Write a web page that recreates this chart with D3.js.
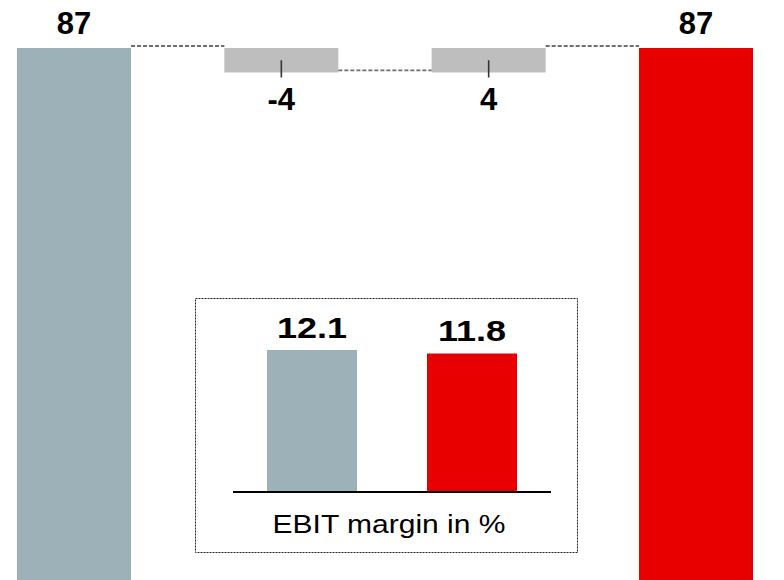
<!DOCTYPE html>
<html>
<head>
<meta charset="utf-8">
<script src="https://cdn.jsdelivr.net/npm/d3@7/dist/d3.min.js"></script>
<style>
  html, body { margin: 0; padding: 0; background: #fff; }
  svg { display: block; font-family: "Liberation Sans", Arial, Helvetica, sans-serif; }
</style>
</head>
<body>
<svg id="chart" width="784" height="580"></svg>
<script>
// EBIT bridge: start total, two changes, end total
const steps = ["start", "change1", "change2", "end"];
const stepKinds = ["total", "delta", "delta", "total"];
const stepValues = [87, -4, 4, 87];

// EBIT margin inset
const marginCats = ["prior", "current"];
const marginValues = [12.1, 11.8];
const marginTitle = "EBIT margin in %";

const colors = { prior: "#9cb1b8", current: "#e80000", delta: "#bebebe" };

// inset labels use a widened face
const placeText = (cx, cy, sx) => `translate(${cx},${cy}) scale(${sx},1)`;

const svg = d3.select("#chart");

// ---- waterfall ----
const x = d3.scaleBand().domain(steps).range([17, 753]).paddingInner(0.45).paddingOuter(0);
const y = d3.scaleLinear().domain([0, 87]).range([580, 48]);

// running levels for each step
let level = 0;
const bars = steps.map((s, i) => {
  const v = stepValues[i];
  let lo, hi;
  if (stepKinds[i] === "total") { lo = 0; hi = v; level = v; }
  else { const prev = level; level = prev + v; lo = Math.min(prev, level); hi = Math.max(prev, level); }
  return { step: s, kind: stepKinds[i], value: v, lo, hi, level };
});

const fillFor = (d, i) => d.kind === "delta" ? colors.delta : (i === 0 ? colors.prior : colors.current);

svg.append("g").selectAll("rect").data(bars).join("rect")
  .attr("x", d => x(d.step))
  .attr("width", x.bandwidth())
  .attr("y", d => y(d.hi))
  .attr("height", d => y(d.lo) - y(d.hi))
  .attr("fill", fillFor);

// dashed connectors between neighbouring bars
const links = bars.slice(0, -1).map((d, i) => ({ from: d, to: bars[i + 1], lvl: d.level }));
svg.append("g").selectAll("line").data(links).join("line")
  .attr("x1", d => x(d.from.step) + x.bandwidth())
  .attr("x2", d => x(d.to.step))
  .attr("y1", d => y(d.lvl) - 2)
  .attr("y2", d => y(d.lvl) - 2)
  .attr("stroke", "#6e6e6e")
  .attr("stroke-width", 1.8)
  .attr("stroke-dasharray", "4,2");

// leader ticks on the change bars
const deltas = bars.filter(d => d.kind === "delta");
svg.append("g").selectAll("line").data(deltas).join("line")
  .attr("x1", d => x(d.step) + x.bandwidth() / 2)
  .attr("x2", d => x(d.step) + x.bandwidth() / 2)
  .attr("y1", d => (y(d.hi) + y(d.lo)) / 2)
  .attr("y2", d => y(d.lo) + 5)
  .attr("stroke", "#333")
  .attr("stroke-width", 1.6);

// value labels
svg.append("g").selectAll("text").data(bars).join("text")
  .attr("x", d => x(d.step) + x.bandwidth() / 2)
  .attr("y", d => d.kind === "total" ? y(d.hi) - 14 : y(d.lo) + 38)
  .attr("text-anchor", "middle")
  .attr("font-weight", "bold")
  .attr("font-size", 31)
  .attr("fill", "#000")
  .text(d => String(d.value));

// ---- inset: EBIT margin ----
const inset = svg.append("g");
inset.append("rect")
  .attr("x", 195.5).attr("y", 298.5).attr("width", 382).attr("height", 254)
  .attr("fill", "#fff").attr("stroke", "#222").attr("stroke-width", 1)
  .attr("stroke-dasharray", "2,1");

const mx = d3.scaleBand().domain(marginCats).range([267, 517]).paddingInner(0.4375).paddingOuter(0);
const my = d3.scaleLinear().domain([0, 12.1]).range([491, 350]);

inset.selectAll("rect.m").data(marginCats).join("rect")
  .attr("class", "m")
  .attr("x", d => mx(d))
  .attr("width", mx.bandwidth())
  .attr("y", (d, i) => my(marginValues[i]))
  .attr("height", (d, i) => my(0) - my(marginValues[i]))
  .attr("fill", d => colors[d]);

inset.append("line")
  .attr("x1", 233).attr("x2", 551).attr("y1", my(0) + 1).attr("y2", my(0) + 1)
  .attr("stroke", "#000").attr("stroke-width", 2);

inset.selectAll("text.v").data(marginCats).join("text")
  .attr("class", "v")
  .attr("transform", (d, i) => placeText(mx(d) + mx.bandwidth() / 2, my(marginValues[i]) - 12, 1.2))
  .attr("text-anchor", "middle")
  .attr("font-weight", "bold")
  .attr("font-size", 30)
  .text((d, i) => d3.format(".1f")(marginValues[i]));

inset.append("text")
  .attr("transform", placeText(389, 533, 1.2))
  .attr("text-anchor", "middle")
  .attr("font-size", 25)
  .text(marginTitle);
</script>
</body>
</html>
